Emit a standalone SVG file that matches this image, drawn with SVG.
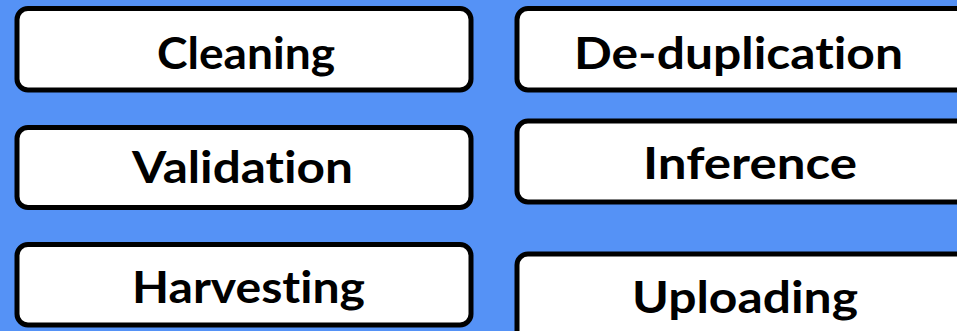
<svg xmlns="http://www.w3.org/2000/svg" width="957" height="331" viewBox="0 0 957 331">
<style>
.box{fill:#ffffff;stroke:#000000;stroke-width:5}
.lbl{font-family:Lato,"Open Sans","Liberation Sans",sans-serif;font-weight:bold;font-size:43px;fill:#000000;text-anchor:middle;font-variant-ligatures:none;font-feature-settings:"liga" 0}
</style>
<rect x="0" y="0" width="957" height="331" fill="#5592f6"/>
<g id="cleaning"><rect class="box" x="17" y="8.5" width="454" height="81.5" rx="11"/><text class="lbl" x="246" y="69" textLength="178" lengthAdjust="spacingAndGlyphs">Cleaning</text></g>
<g id="deduplication"><rect class="box" x="517" y="8.5" width="470" height="81.5" rx="11"/><text class="lbl" x="738.5" y="69" textLength="329" lengthAdjust="spacingAndGlyphs">De-duplication</text></g>
<g id="validation"><rect class="box" x="17" y="127.5" width="454" height="80" rx="11"/><text class="lbl" x="242.5" y="183" textLength="221" lengthAdjust="spacingAndGlyphs">Validation</text></g>
<g id="inference"><rect class="box" x="517" y="121" width="470" height="81" rx="11"/><text class="lbl" x="750" y="179" textLength="214" lengthAdjust="spacingAndGlyphs">Inference</text></g>
<g id="harvesting"><rect class="box" x="17" y="244.5" width="454" height="80.5" rx="11"/><text class="lbl" x="248.5" y="303" textLength="233" lengthAdjust="spacingAndGlyphs">Harvesting</text></g>
<g id="uploading"><rect class="box" x="517" y="254" width="470" height="100" rx="11"/><text class="lbl" x="745" y="313" textLength="226" lengthAdjust="spacingAndGlyphs">Uploading</text></g>
<g id="connectors"></g>
</svg>
